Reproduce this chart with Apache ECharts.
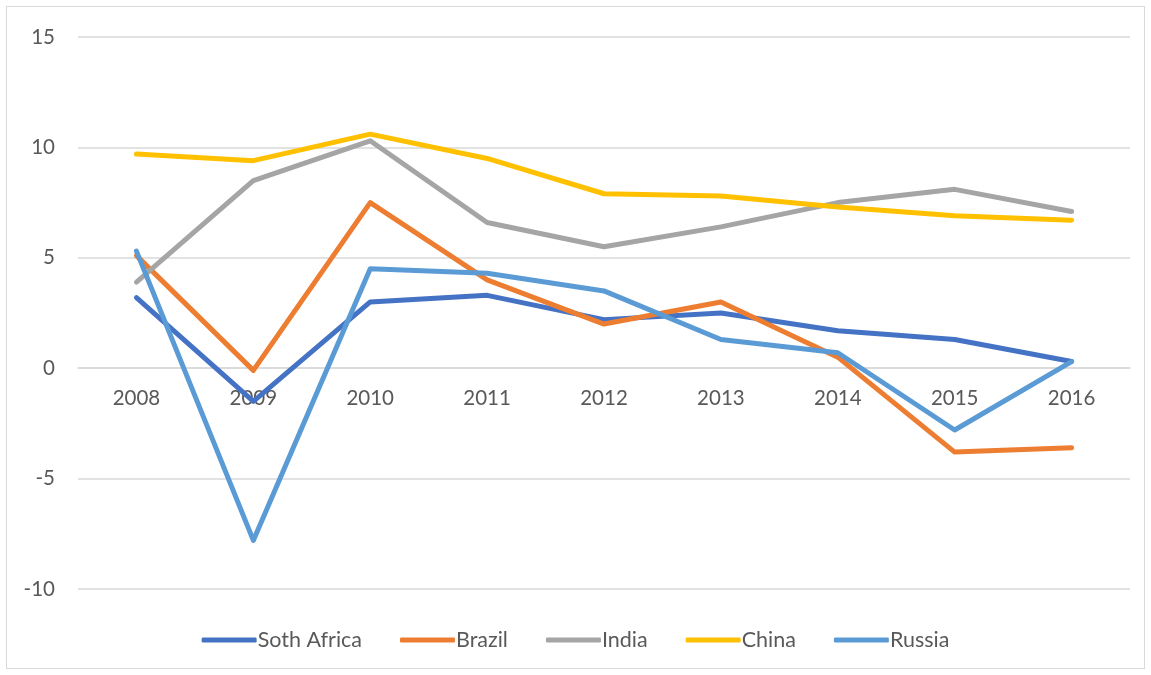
<!DOCTYPE html>
<html>
<head>
<meta charset="utf-8">
<script src="https://cdn.jsdelivr.net/npm/echarts@6/dist/echarts.min.js"></script>
<style>
    html, body { margin: 0; padding: 0; background: #fff; }
    #main { width: 1151px; height: 675px; }
    .frame { position: absolute; left: 6px; top: 6px; width: 1139px; height: 663px; border: 1px solid #d9d9d9; box-sizing: border-box; pointer-events: none; }
</style>
</head>
<body>
<div id="main"></div>
<div class="frame"></div>
<script>
// 年份
var years = ["2008", "2009", "2010", "2011", "2012", "2013", "2014", "2015", "2016"];

// 各国数据
var southAfrica = [3.2, -1.5, 3.0, 3.3, 2.2, 2.5, 1.7, 1.3, 0.3];
var brazil      = [5.1, -0.1, 7.5, 4.0, 2.0, 3.0, 0.5, -3.8, -3.6];
var india       = [3.9, 8.5, 10.3, 6.6, 5.5, 6.4, 7.5, 8.1, 7.1];
var china       = [9.7, 9.4, 10.6, 9.5, 7.9, 7.8, 7.3, 6.9, 6.7];
var russia      = [5.3, -7.8, 4.5, 4.3, 3.5, 1.3, 0.7, -2.8, 0.3];

// y 轴刻度
var yMin = -10, yMax = 15, yStep = 5;

var names  = ["Soth Africa", "Brazil", "India", "China", "Russia"];
var colors = ["#4472C4", "#ED7D31", "#A5A5A5", "#FFC000", "#5B9BD5"];
var values = [southAfrica, brazil, india, china, russia];

var font = "Lato, 'Open Sans', sans-serif";
var gridTop = 37, gridBottom = 86;
var plotH = 675 - gridTop - gridBottom;
// x 轴放在 0 刻度处
var zeroOffset = -plotH * (0 - yMin) / (yMax - yMin);

var series = names.map(function (n, i) {
    return {
        name: n,
        type: 'line',
        data: values[i],
        symbol: 'none',
        lineStyle: { width: 5, color: colors[i], cap: 'round', join: 'round' },
        itemStyle: { color: colors[i] }
    };
});

var myChart = echarts.init(document.getElementById('main'));

var option = {
    animation: false,
    color: colors,
    grid: { left: 78, right: 21, top: gridTop, bottom: gridBottom, containLabel: false },
    legend: {
        bottom: 19,
        left: 'center',
        itemWidth: 55,
        itemHeight: 5,
        itemGap: 38,
        icon: 'roundRect',
        textStyle: { fontFamily: font, fontSize: 21.5, color: '#595959', padding: [0, 0, 0, -4] },
        data: names
    },
    xAxis: {
        type: 'category',
        data: years,
        boundaryGap: true,
        offset: zeroOffset,
        axisLine: { onZero: false, lineStyle: { color: '#d9d9d9', width: 1.5 } },
        axisTick: { show: false },
        axisLabel: { fontFamily: font, fontSize: 20.5, color: '#595959', margin: 20 }
    },
    yAxis: {
        type: 'value',
        min: yMin,
        max: yMax,
        interval: yStep,
        axisLine: { show: false },
        axisTick: { show: false },
        axisLabel: { fontFamily: font, fontSize: 20.5, color: '#595959', margin: 23 },
        splitLine: { lineStyle: { color: '#d9d9d9', width: 1.5 } }
    },
    series: series
};

myChart.setOption(option);
</script>
</body>
</html>
